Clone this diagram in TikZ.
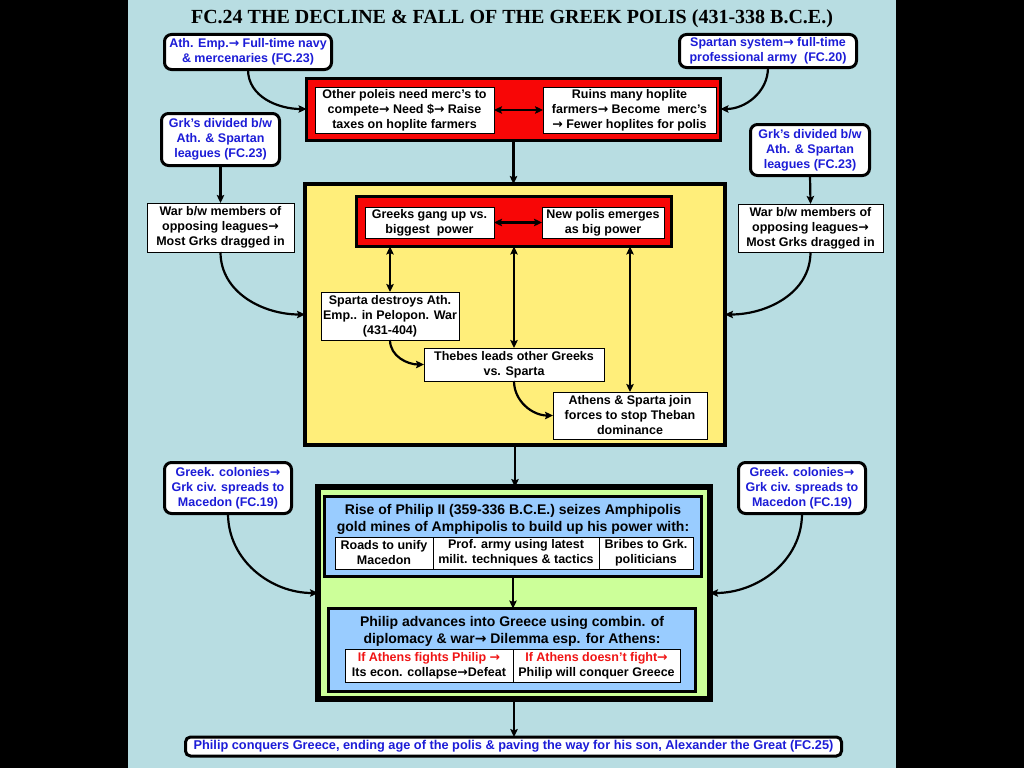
\documentclass[tikz,border=0pt]{standalone}
\usepackage{fontspec}
\setmainfont{Liberation Sans}
\newfontfamily\titlefont{Liberation Serif}
\newfontfamily\arrfont{DejaVu Sans}
\newcommand\ar{{\arrfont\bfseries →}}
\usetikzlibrary{arrows.meta}
\definecolor{panel}{RGB}{184,221,226}
\definecolor{txtblue}{RGB}{28,28,215}
\definecolor{txtred}{RGB}{240,20,20}
\definecolor{boxred}{RGB}{248,6,6}
\definecolor{boxyellow}{RGB}{255,238,122}
\definecolor{boxgreen}{RGB}{204,255,153}
\definecolor{boxblue}{RGB}{153,204,255}
\tikzset{
  base/.style={font=\fontsize{12.5}{15}\selectfont\bfseries, align=center, inner sep=0pt, outer sep=0pt},
  rbox/.style={base, draw, line width=3pt, rounded corners=7pt, fill=white, text=txtblue},
  wbox/.style={base, draw, line width=1pt, fill=white},
  frame/.style={draw, line width=#1, inner sep=0pt, outer sep=0pt},
  hdr/.style={base, font=\fontsize{14}{16.8}\selectfont\bfseries},
  arr/.style={-{Stealth[length=8pt,width=7.5pt,inset=1.5pt]}, line width=2.2pt},
  dbl/.style={{Stealth[length=8pt,width=7.5pt,inset=1.5pt]}-{Stealth[length=8pt,width=7.5pt,inset=1.5pt]}, line width=2.2pt},
}
\begin{document}
\begin{tikzpicture}[x=1pt,y=-1pt]
\useasboundingbox (0,0) rectangle (1024,768);
\fill[black] (0,0) rectangle (1024,768);
\fill[panel] (128,0) rectangle (896,768);

% title
\node[inner sep=0pt, font=\titlefont\fontsize{20}{22}\selectfont\bfseries] (title) at (512,19) {FC.24 THE DECLINE \& FALL OF THE GREEK POLIS (431-338 B.C.E.)};

% top outer boxes
\node[rbox, minimum width=167pt, minimum height=35pt] (tl) at (248,52) {Ath. Emp.\ar\ Full-time navy\\ \& mercenaries (FC.23)};
\node[rbox, minimum width=177pt, minimum height=33pt] (tr) at (768,51) {Spartan system\ar\ full-time\\ professional army\ \ (FC.20)};

% red box
\node[frame=3pt, fill=boxred, minimum width=414pt, minimum height=62pt] (red) at (513.5,109) {};
\node[wbox, minimum width=179pt, minimum height=46pt] (redL) at (404.5,110) {Other poleis need merc’s to\\ compete\ar\ Need \$\ar\ Raise\\ taxes on hoplite farmers};
\node[wbox, minimum width=173pt, minimum height=46pt] (redR) at (629.5,110) {Ruins many hoplite\\ farmers\ar\ Become\ \ merc’s\\ \ar\ Fewer hoplites for polis};
\draw[dbl] (redL.east) -- (redR.west);

% side boxes
\node[rbox, minimum width=118pt, minimum height=52pt] (grkL) at (220.5,139.5) {Grk’s divided b/w\\ Ath. \& Spartan\\ leagues (FC.23)};
\node[rbox, minimum width=119pt, minimum height=51pt] (grkR) at (810,150) {Grk’s divided b/w\\ Ath. \& Spartan\\ leagues (FC.23)};
\node[wbox, minimum width=147pt, minimum height=49pt] (warL) at (220.5,227.5) {War b/w members of\\ opposing leagues\ar\\ Most Grks dragged in};
\node[wbox, minimum width=145pt, minimum height=48pt] (warR) at (810.5,228) {War b/w members of\\ opposing leagues\ar\\ Most Grks dragged in};

% yellow box
\node[frame=4pt, fill=boxyellow, minimum width=420pt, minimum height=261pt] (yel) at (515,314.5) {};
\node[frame=3pt, fill=boxred, minimum width=315pt, minimum height=50pt] (red2) at (514,221.5) {};
\node[wbox, minimum width=129pt, minimum height=31pt] (r2L) at (429.5,222.5) {Greeks gang up vs.\\ biggest\ \ power};
\node[wbox, minimum width=122pt, minimum height=31pt] (r2R) at (603,222.5) {New polis emerges\\ as big power};
\draw[dbl] (r2L.east) -- (r2R.west);
\node[wbox, minimum width=138pt, minimum height=48pt] (sparta) at (390,316) {Sparta destroys Ath.\\ Emp.. in Pelopon. War\\ (431-404)};
\node[wbox, minimum width=180pt, minimum height=33pt] (thebes) at (514,364.5) {Thebes leads other Greeks\\ vs. Sparta};
\node[wbox, minimum width=154pt, minimum height=47pt] (athens) at (630,415.5) {Athens \& Sparta join\\ forces to stop Theban\\ dominance};
\draw[dbl] (sparta.north |- red2.south) -- (sparta.north);
\draw[dbl] (thebes.north |- red2.south) -- (thebes.north);
\draw[dbl] (athens.north |- red2.south) -- (athens.north);
\draw[arr] (sparta.south) to[out=-90, in=180] (thebes.west);
\draw[arr] (thebes.south) to[out=-90, in=180] (athens.west);

% colonies
\node[rbox, minimum width=127pt, minimum height=51pt] (colL) at (228,488) {Greek. colonies\ar\\ Grk civ. spreads to\\ Macedon (FC.19)};
\node[rbox, minimum width=127pt, minimum height=51pt] (colR) at (802,488) {Greek. colonies\ar\\ Grk civ. spreads to\\ Macedon (FC.19)};

% green box
\node[frame=5.5pt, fill=boxgreen, minimum width=392pt, minimum height=212pt] (grn) at (514,593) {};
\node[frame=3pt, fill=boxblue, minimum width=377pt, minimum height=80pt] (blu1) at (513,536.5) {};
\node[hdr] (h1) at (513,519.5) {Rise of Philip II (359-336 B.C.E.) seizes Amphipolis\\ gold mines of Amphipolis to build up his power with:};
\node[wbox, minimum width=98pt, minimum height=32pt] (c1) at (384,553) {Roads to unify\\ Macedon};
\node[wbox, minimum width=166pt, minimum height=32pt] (c2) at (516,553) {Prof. army using latest\\ milit. techniques \& tactics};
\node[wbox, minimum width=94pt, minimum height=32pt] (c3) at (646,553) {Bribes to Grk.\\ politicians};
\node[frame=3pt, fill=boxblue, minimum width=367pt, minimum height=83pt] (blu2) at (512,650) {};
\node[hdr] (h2) at (512,631.5) {Philip advances into Greece using combin. of\\ diplomacy \& war\ar\ Dilemma esp. for Athens:};
\node[wbox, minimum width=168pt, minimum height=33pt] (d1) at (429,665.5) {\textcolor{txtred}{If Athens fights Philip \ar}\\ Its econ. collapse\ar Defeat};
\node[wbox, minimum width=167pt, minimum height=33pt] (d2) at (596.5,665.5) {\textcolor{txtred}{If Athens doesn’t fight\ar}\\ Philip will conquer Greece};

% bottom
\node[rbox, rounded corners=5pt, font=\fontsize{12.75}{15}\selectfont\bfseries, minimum width=656pt, minimum height=19pt] (bot) at (513.5,746.5) {Philip conquers Greece, ending age of the polis \& paving the way for his son, Alexander the Great (FC.25)};

% connectors
\draw[arr] (tl.south) to[out=-90, in=180] (red.west);
\draw[arr] (tr.south) to[out=-90, in=0] (red.east);
\draw[arr] (grkL.south) -- (warL.north);
\draw[arr] (grkR.south) -- (warR.north);
\draw[arr] (warL.south) to[out=-90, in=180] (yel.west);
\draw[arr] (warR.south) to[out=-90, in=0] (yel.east);
\draw[arr] (red.south) -- (red.south |- yel.north);
\draw[arr] (yel.south) -- (yel.south |- grn.north);
\draw[arr] (colL.south) to[out=-90, in=180] (grn.west);
\draw[arr] (colR.south) to[out=-90, in=0] (grn.east);
\draw[arr] (blu1.south) -- (blu1.south |- blu2.north);
\draw[arr] (grn.south) -- (grn.south |- bot.north);
\end{tikzpicture}
\end{document}
